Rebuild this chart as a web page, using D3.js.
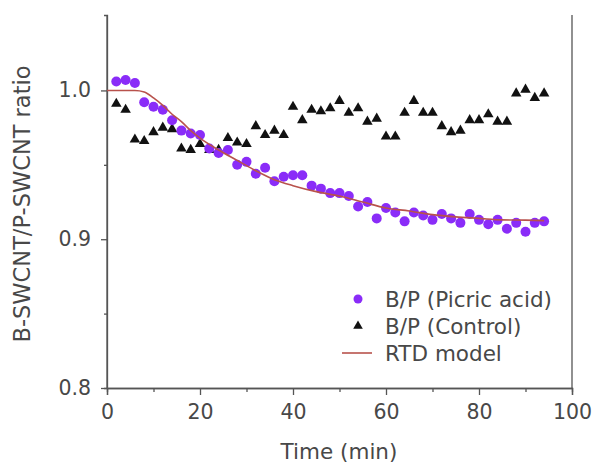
<!DOCTYPE html>
<html><head><meta charset="utf-8">
<script src="https://cdn.jsdelivr.net/npm/d3@7"></script>
<style>body{margin:0;background:#fff;} text{font-family:"DejaVu Sans",sans-serif;}</style>
</head><body>
<svg id="c" width="595" height="465"></svg>
<script>
const times = [2,4,6,8,10,12,14,16,18,20,22,24,26,28,30,32,34,36,38,40,42,44,46,48,50,52,54,56,58,60,62,64,66,68,70,72,74,76,78,80,82,84,86,88,90,92,94];
const picric = [1.006,1.007,1.005,0.992,0.989,0.987,0.980,0.973,0.971,0.970,0.961,0.958,0.960,0.950,0.952,0.944,0.948,0.939,0.942,0.943,0.943,0.936,0.934,0.931,0.931,0.929,0.922,0.925,0.914,0.921,0.918,0.912,0.918,0.916,0.913,0.917,0.914,0.911,0.917,0.913,0.910,0.913,0.907,0.911,0.905,0.911,0.912];
const control = [0.991,0.987,0.967,0.966,0.972,0.975,0.974,0.961,0.960,0.964,0.960,0.960,0.968,0.965,0.964,0.976,0.970,0.973,0.970,0.989,0.980,0.987,0.986,0.988,0.993,0.985,0.988,0.979,0.981,0.969,0.969,0.985,0.993,0.985,0.985,0.976,0.972,0.973,0.980,0.980,0.984,0.979,0.979,0.998,1.0005,0.995,0.998];
const rtdTimes = [0,6,8,10,12,14,16,18,20,24,28,32,36,40,45,50,55,60,65,70,75,80,85,90,94];
const rtdValues = [1.000,1.000,0.999,0.995,0.990,0.984,0.979,0.973,0.968,0.960,0.953,0.946,0.940,0.936,0.932,0.929,0.925,0.921,0.919,0.9165,0.915,0.914,0.913,0.9128,0.9125];
const xTicks = [0,20,40,60,80,100];
const xMinor = [10,30,50,70,90];
const yTicks = [0.8,0.9,1.0];
const yMinor = [0.85,0.95];
const legendLabels = ["B/P (Picric acid)","B/P (Control)","RTD model"];

const svg = d3.select("#c");
const L=107,R=572,T=15,B=388;
const x = d3.scaleLinear().domain([0,100]).range([L,R]);
const y = d3.scaleLinear().domain([0.8,1.0507]).range([B,T]);
const axisColor="#555", textColor="#484848", purple="#8a2cf8", red="#b8524c";
const FONT="'DejaVu Sans',sans-serif";

// axes
const gx = svg.append("g").attr("transform",`translate(0,${B})`)
  .call(d3.axisBottom(x).tickValues(xTicks).tickSize(7).tickPadding(9).tickFormat(d3.format("d")));
const gxm = svg.append("g").attr("transform",`translate(0,${B})`)
  .call(d3.axisBottom(x).tickValues(xMinor).tickSize(4).tickFormat(""));
const gy = svg.append("g").attr("transform",`translate(${L},0)`)
  .call(d3.axisLeft(y).tickValues(yTicks).tickSize(6).tickPadding(10).tickFormat(d3.format(".1f")));
const gym = svg.append("g").attr("transform",`translate(${L},0)`)
  .call(d3.axisLeft(y).tickValues(yMinor).tickSize(3).tickFormat(""));
svg.append("line").attr("x1",R).attr("x2",R).attr("y1",T).attr("y2",B).attr("stroke",axisColor).attr("stroke-width",1.3);
[gx,gxm,gy,gym].forEach(g=>{
  g.selectAll(".domain").attr("stroke",axisColor).attr("stroke-width",1.3);
  g.selectAll(".tick line").attr("stroke",axisColor).attr("stroke-width",1.3);
  g.selectAll("text").attr("fill",textColor).style("font-size","20.5px").style("font-family",FONT);
});
gy.select(".domain").attr("d",`M0,${B}V${T}`);

// axis titles
svg.append("text").attr("x",339).attr("y",459).attr("text-anchor","middle")
  .attr("fill",textColor).style("font-size","21.5px").text("Time (min)");
svg.append("text").attr("transform",`translate(30,204) rotate(-90)`).attr("text-anchor","middle")
  .attr("fill",textColor).style("font-size","22.5px").text("B-SWCNT/P-SWCNT ratio");

// data
const pData = times.map((t,i)=>({t,v:picric[i]}));
const cData = times.map((t,i)=>({t,v:control[i]}));
const rData = rtdTimes.map((t,i)=>({t,v:rtdValues[i]}));
const tri = d3.symbol().type(d3.symbolTriangle).size(48);

svg.append("g").selectAll("path").data(cData).join("path")
  .attr("d",tri).attr("transform",d=>`translate(${x(d.t)},${y(d.v)})`).attr("fill","#111");
svg.append("g").selectAll("circle").data(pData).join("circle")
  .attr("cx",d=>x(d.t)).attr("cy",d=>y(d.v)).attr("r",5).attr("fill",purple);
svg.append("path").datum(rData)
  .attr("d",d3.line().x(d=>x(d.t)).y(d=>y(d.v)).curve(d3.curveMonotoneX))
  .attr("fill","none").attr("stroke",red).attr("stroke-width",1.6);

// legend
const lg = svg.append("g");
lg.append("circle").attr("cx",358).attr("cy",299).attr("r",4.5).attr("fill",purple);
lg.append("path").attr("d",d3.symbol().type(d3.symbolTriangle).size(40)).attr("transform","translate(358,326)").attr("fill","#111");
lg.append("line").attr("x1",342).attr("x2",372).attr("y1",353).attr("y2",353).attr("stroke",red).attr("stroke-width",1.6);
legendLabels.forEach((s,i)=>{
  lg.append("text").attr("x",385).attr("y",299+i*27).attr("dy","0.36em")
    .attr("fill",textColor).style("font-size","21.5px").text(s);
});
</script>
</body></html>
